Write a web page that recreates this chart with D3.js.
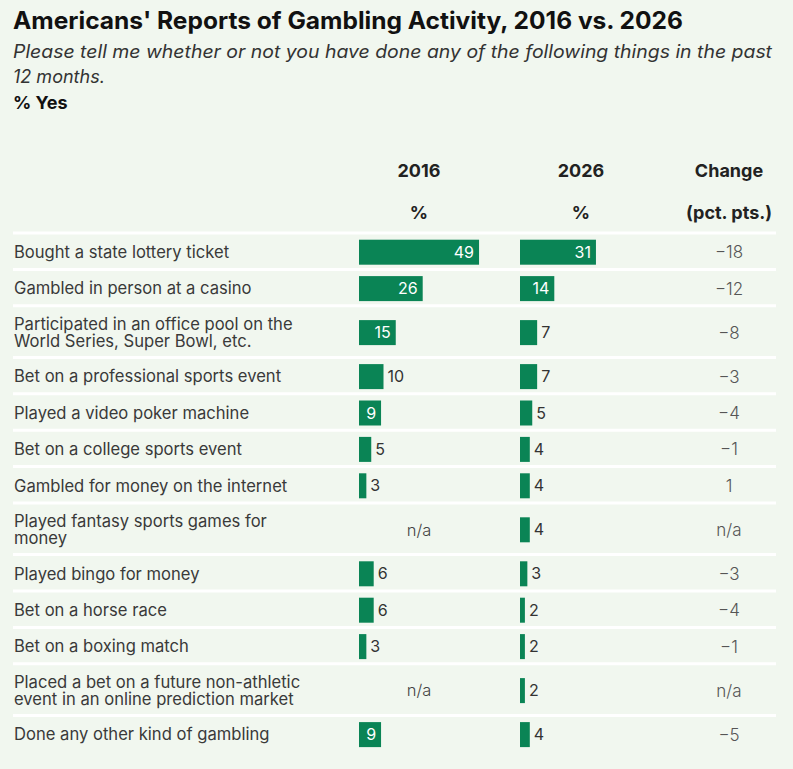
<!DOCTYPE html>
<html>
<head>
<meta charset="utf-8">
<script src="https://cdn.jsdelivr.net/npm/d3@7"></script>
<style>
  body { margin: 0; background: #f1f7ef; }
  svg { display: block; font-family: Inter, Roboto, "Noto Sans", sans-serif; }
</style>
</head>
<body>
<div id="chart"></div>
<script>
// data
var categories = [
  ["Bought a state lottery ticket"],
  ["Gambled in person at a casino"],
  ["Participated in an office pool on the", "World Series, Super Bowl, etc."],
  ["Bet on a professional sports event"],
  ["Played a video poker machine"],
  ["Bet on a college sports event"],
  ["Gambled for money on the internet"],
  ["Played fantasy sports games for", "money"],
  ["Played bingo for money"],
  ["Bet on a horse race"],
  ["Bet on a boxing match"],
  ["Placed a bet on a future non-athletic", "event in an online prediction market"],
  ["Done any other kind of gambling"]
];
var yes2016 = [49, 26, 15, 10, 9, 5, 3, null, 6, 6, 3, null, 9];
var yes2026 = [31, 14, 7, 7, 5, 4, 4, 4, 3, 2, 2, 2, 4];
var change = ["\u221218", "\u221212", "\u22128", "\u22123", "\u22124", "\u22121", "1", "n/a", "\u22123", "\u22124", "\u22121", "n/a", "\u22125"];

var headers = [
  {col: "2016", lines: ["2016", "%"]},
  {col: "2026", lines: ["2026", "%"]},
  {col: "chg", lines: ["Change", "(pct. pts.)"]}
];

var w = 793, h = 769;
var green = "#0a8455";

var svg = d3.select("#chart").append("svg")
    .attr("width", w)
    .attr("height", h);

svg.append("rect").attr("width", w).attr("height", h).attr("fill", "#f1f7ef");

// titles
var title = svg.append("text")
    .attr("x", 13).attr("y", 29)
    .attr("font-size", 24).attr("font-weight", 700).attr("fill", "#111")
    .text("Americans' Reports of Gambling Activity, 2016 vs. 2026");
var sub1 = svg.append("text")
    .attr("x", 13).attr("y", 58)
    .attr("font-size", 18).attr("font-style", "italic").attr("fill", "#333")
    .text("Please tell me whether or not you have done any of the following things in the past");
svg.append("text")
    .attr("x", 13).attr("y", 83)
    .attr("font-size", 18).attr("font-style", "italic").attr("fill", "#333")
    .text("12 months.");
svg.append("text")
    .attr("x", 13).attr("y", 109)
    .attr("font-size", 18).attr("font-weight", 700).attr("fill", "#111")
    .text("% Yes");
// keep the lines at the widths seen in the reference
title.attr("textLength", 670).attr("lengthAdjust", "spacingAndGlyphs");
sub1.attr("textLength", 759).attr("lengthAdjust", "spacingAndGlyphs");

// column centres
var colX = {"2016": 419, "2026": 581, "chg": 729};
var start2016 = 359, start2026 = 520;

var x = d3.scaleLinear().domain([0, 50]).range([0, 122.5]);

// row layout
var top0 = 233, single = 36.4, dbl = 51.6;
var rows = [];
var yy = top0;
categories.forEach(function(c, i) {
  var hh = c.length > 1 ? dbl : single;
  rows.push({i: i, label: c, y0: yy, h: hh, v16: yes2016[i], v26: yes2026[i], chg: change[i]});
  yy += hh;
});

// header
headers.forEach(function(hd) {
  hd.lines.forEach(function(t, k) {
    svg.append("text")
        .attr("x", colX[hd.col]).attr("y", 177 + k * 42)
        .attr("text-anchor", "middle")
        .attr("font-size", 18).attr("font-weight", 700).attr("fill", "#222")
        .text(t);
  });
});

// separators
svg.selectAll("line.sep")
    .data(rows)
    .enter().append("line")
    .attr("class", "sep")
    .attr("x1", 13).attr("x2", 776)
    .attr("y1", function(d) { return d.y0; })
    .attr("y2", function(d) { return d.y0; })
    .attr("stroke", "#fff").attr("stroke-width", 3);

var g = svg.selectAll("g.row")
    .data(rows)
    .enter().append("g")
    .attr("class", "row")
    .attr("transform", function(d) { return "translate(0," + (d.y0 + d.h / 2 + 1) + ")"; });

// labels
g.each(function(d) {
  var sel = d3.select(this);
  var n = d.label.length;
  d.label.forEach(function(t, k) {
    sel.append("text")
        .attr("x", 14)
        .attr("y", (k - (n - 1) / 2) * 17.5)
        .attr("dy", "0.35em")
        .attr("font-size", 16.6).attr("fill", "#3a3a3a")
        .text(t);
  });
});

function bars(key, x0, col) {
  g.each(function(d) {
    var sel = d3.select(this);
    var v = d[key];
    if (v == null) {
      sel.append("text")
          .attr("x", colX[col]).attr("dy", "0.35em")
          .attr("text-anchor", "middle")
          .attr("font-size", 16.5).attr("font-weight", 300).attr("fill", "#444")
          .text("n/a");
      return;
    }
    var bw = x(v);
    sel.append("rect")
        .attr("x", x0).attr("y", -12.5)
        .attr("width", bw).attr("height", 25)
        .attr("fill", green);
    var t = sel.append("text")
        .attr("dy", "0.35em")
        .attr("font-size", 16)
        .text(v);
    var tw = t.node().getComputedTextLength();
    if (tw + 10 < bw) {
      t.attr("x", x0 + bw - 5).attr("text-anchor", "end").attr("fill", "#fff");
    } else {
      t.attr("x", x0 + bw + 4).attr("fill", "#333");
    }
  });
}
bars("v16", start2016, "2016");
bars("v26", start2026, "2026");

// change column
g.append("text")
    .attr("x", colX.chg).attr("dy", "0.35em")
    .attr("text-anchor", "middle")
    .attr("font-size", 17).attr("font-weight", 300).attr("fill", "#555")
    .text(function(d) { return d.chg; });
</script>
</body>
</html>
